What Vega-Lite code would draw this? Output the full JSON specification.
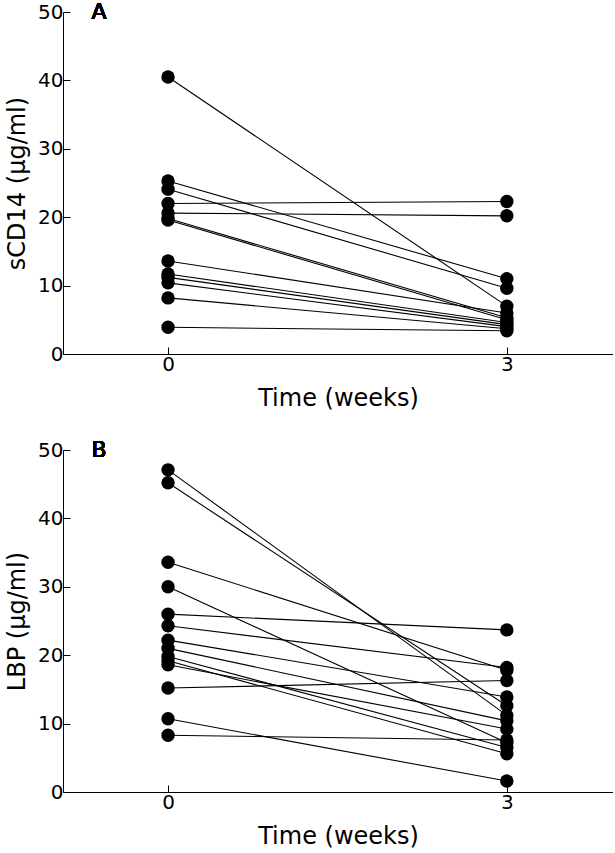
{
  "$schema": "https://vega.github.io/schema/vega-lite/v6.json",
  "padding": {"left": 5, "right": 0, "top": 1, "bottom": 0},
  "spacing": 29,
  "background": "white",
  "config": {
    "view": {"stroke": null},
    "font": "DejaVu Sans",
    "axis": {
      "grid": false,
      "domainColor": "black",
      "tickColor": "black",
      "labelColor": "black",
      "titleColor": "black",
      "labelFont": "DejaVu Sans",
      "titleFont": "DejaVu Sans",
      "labelFontSize": 20,
      "titleFontSize": 24,
      "titleFontWeight": "normal",
      "tickSize": -7,
      "labelPadding": 7
    }
  },
  "datasets": {
    "A": [
      {"s": "a1", "t": 0, "v": 40.5}, {"s": "a1", "t": 3, "v": 7.0},
      {"s": "a2", "t": 0, "v": 25.3}, {"s": "a2", "t": 3, "v": 11.0},
      {"s": "a3", "t": 0, "v": 24.1}, {"s": "a3", "t": 3, "v": 9.6},
      {"s": "a4", "t": 0, "v": 22.0}, {"s": "a4", "t": 3, "v": 22.3},
      {"s": "a5", "t": 0, "v": 20.6}, {"s": "a5", "t": 3, "v": 20.2},
      {"s": "a6", "t": 0, "v": 19.8}, {"s": "a6", "t": 3, "v": 5.3},
      {"s": "a7", "t": 0, "v": 19.6}, {"s": "a7", "t": 3, "v": 5.0},
      {"s": "a8", "t": 0, "v": 13.6}, {"s": "a8", "t": 3, "v": 6.0},
      {"s": "a9", "t": 0, "v": 11.7}, {"s": "a9", "t": 3, "v": 4.6},
      {"s": "a10", "t": 0, "v": 11.2}, {"s": "a10", "t": 3, "v": 4.3},
      {"s": "a11", "t": 0, "v": 10.4}, {"s": "a11", "t": 3, "v": 4.0},
      {"s": "a12", "t": 0, "v": 8.2}, {"s": "a12", "t": 3, "v": 3.7},
      {"s": "a13", "t": 0, "v": 3.9}, {"s": "a13", "t": 3, "v": 3.4}
    ],
    "B": [
      {"s": "b1", "t": 0, "v": 47.1}, {"s": "b1", "t": 3, "v": 11.2},
      {"s": "b2", "t": 0, "v": 45.2}, {"s": "b2", "t": 3, "v": 12.6},
      {"s": "b3", "t": 0, "v": 33.6}, {"s": "b3", "t": 3, "v": 17.8},
      {"s": "b4", "t": 0, "v": 30.0}, {"s": "b4", "t": 3, "v": 7.2},
      {"s": "b5", "t": 0, "v": 26.0}, {"s": "b5", "t": 3, "v": 23.7},
      {"s": "b6", "t": 0, "v": 24.3}, {"s": "b6", "t": 3, "v": 18.2},
      {"s": "b7", "t": 0, "v": 22.2}, {"s": "b7", "t": 3, "v": 13.9},
      {"s": "b8", "t": 0, "v": 21.0}, {"s": "b8", "t": 3, "v": 10.4},
      {"s": "b9", "t": 0, "v": 19.8}, {"s": "b9", "t": 3, "v": 6.5},
      {"s": "b10", "t": 0, "v": 19.2}, {"s": "b10", "t": 3, "v": 5.6},
      {"s": "b11", "t": 0, "v": 18.6}, {"s": "b11", "t": 3, "v": 9.2},
      {"s": "b12", "t": 0, "v": 15.2}, {"s": "b12", "t": 3, "v": 16.3},
      {"s": "b13", "t": 0, "v": 10.7}, {"s": "b13", "t": 3, "v": 1.6},
      {"s": "b14", "t": 0, "v": 8.3}, {"s": "b14", "t": 3, "v": 7.6}
    ]
  },
  "vconcat": [
    {
      "width": 550,
      "height": 342,
      "data": {"name": "A"},
      "encoding": {
        "x": {"field": "t", "type": "quantitative", "scale": {"domain": [-0.93, 3.94], "nice": false, "zero": false}, "axis": {"values": [0, 3], "title": "Time (weeks)", "titlePadding": 12}},
        "y": {"field": "v", "type": "quantitative", "scale": {"domain": [0, 50], "nice": false}, "axis": {"values": [0, 10, 20, 30, 40, 50], "title": "sCD14 (µg/ml)", "titlePadding": 8}}
      },
      "layer": [
        {"mark": {"type": "line", "color": "black", "strokeWidth": 1.1}, "encoding": {"detail": {"field": "s"}}},
        {"mark": {"type": "circle", "color": "black", "opacity": 1, "size": 180}},
        {"mark": {"type": "text", "text": "A", "fontSize": 22, "fontWeight": "normal", "font": "DejaVu Sans", "color": "black", "baseline": "middle", "align": "center"},
         "encoding": {"x": {"datum": -0.61}, "y": {"datum": 50}}}
      ]
    },
    {
      "width": 550,
      "height": 342,
      "data": {"name": "B"},
      "encoding": {
        "x": {"field": "t", "type": "quantitative", "scale": {"domain": [-0.93, 3.94], "nice": false, "zero": false}, "axis": {"values": [0, 3], "title": "Time (weeks)", "titlePadding": 12}},
        "y": {"field": "v", "type": "quantitative", "scale": {"domain": [0, 50], "nice": false}, "axis": {"values": [0, 10, 20, 30, 40, 50], "title": "LBP (µg/ml)", "titlePadding": 8}}
      },
      "layer": [
        {"mark": {"type": "line", "color": "black", "strokeWidth": 1.1}, "encoding": {"detail": {"field": "s"}}},
        {"mark": {"type": "circle", "color": "black", "opacity": 1, "size": 180}},
        {"mark": {"type": "text", "text": "B", "fontSize": 22, "fontWeight": "normal", "font": "DejaVu Sans", "color": "black", "baseline": "middle", "align": "center"},
         "encoding": {"x": {"datum": -0.61}, "y": {"datum": 50}}}
      ]
    }
  ]
}
